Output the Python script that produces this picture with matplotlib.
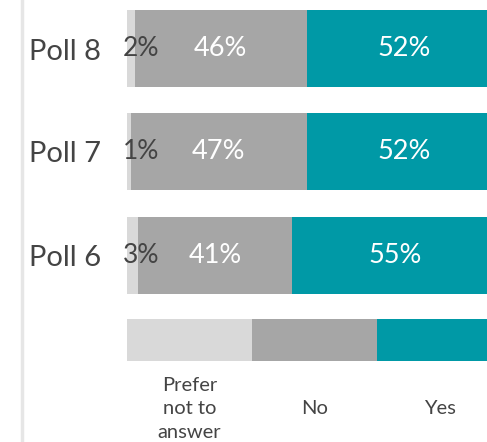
import matplotlib
matplotlib.use('Agg')
import matplotlib.pyplot as plt
from matplotlib.lines import Line2D

polls = ['Poll 8', 'Poll 7', 'Poll 6']
prefer = [2, 1, 3]
no = [46, 47, 41]
yes = [52, 52, 55]
legend_labels = ['Prefer\nnot to\nanswer', 'No', 'Yes']

c_prefer = '#d9d9d9'
c_no = '#a6a6a6'
c_yes = '#0099a6'
c_text = '#444444'

plt.rcParams['font.family'] = ['Lato', 'DejaVu Sans']

W, H = 487, 442
fig = plt.figure(figsize=(W / 100, H / 100), dpi=100)
ax = fig.add_axes([127 / W, 0, 1 - 127 / W, 1])
px = 3.75  # pixels per percent
ax.set_xlim(0, (W - 127) / px)
ax.set_ylim(H, 0)
ax.axis('off')

row_y = [48.5, 151.5, 255.5]
bar_h = 77
for y, name, p, n, ys in zip(row_y, polls, prefer, no, yes):
    ax.barh(y, p, height=bar_h, color=c_prefer)
    ax.barh(y, n, left=p, height=bar_h, color=c_no)
    ax.barh(y, ys, left=p + n, height=bar_h, color=c_yes)
    ax.text(-26 / px, y + 3, name, ha='right', va='center', fontsize=21,
            color=c_text, clip_on=False)
    ax.text(-4 / px, y, f'{p}%', ha='left', va='center', fontsize=19,
            color=c_text, clip_on=False)
    ax.text(p + n / 2, y, f'{n}%', ha='center', va='center', fontsize=19.5,
            color='white')
    ax.text(p + n + ys / 2, y, f'{ys}%', ha='center', va='center', fontsize=19.5,
            color='white')

# legend bar
leg_y = 340
third = 100 / 3
for i, (lab, c) in enumerate(zip(legend_labels, [c_prefer, c_no, c_yes])):
    ax.barh(leg_y, third, left=i * third, height=42, color=c)
    ax.text(i * third + third / 2, 409, lab, ha='center', va='center', fontsize=14.5,
            color=c_text, linespacing=1.45, clip_on=False)

fig.add_artist(Line2D([22 / W, 22 / W], [0, 1], color='#e6e6e6', linewidth=2.5,
                      transform=fig.transFigure))

plt.savefig('out.png', dpi=100)
